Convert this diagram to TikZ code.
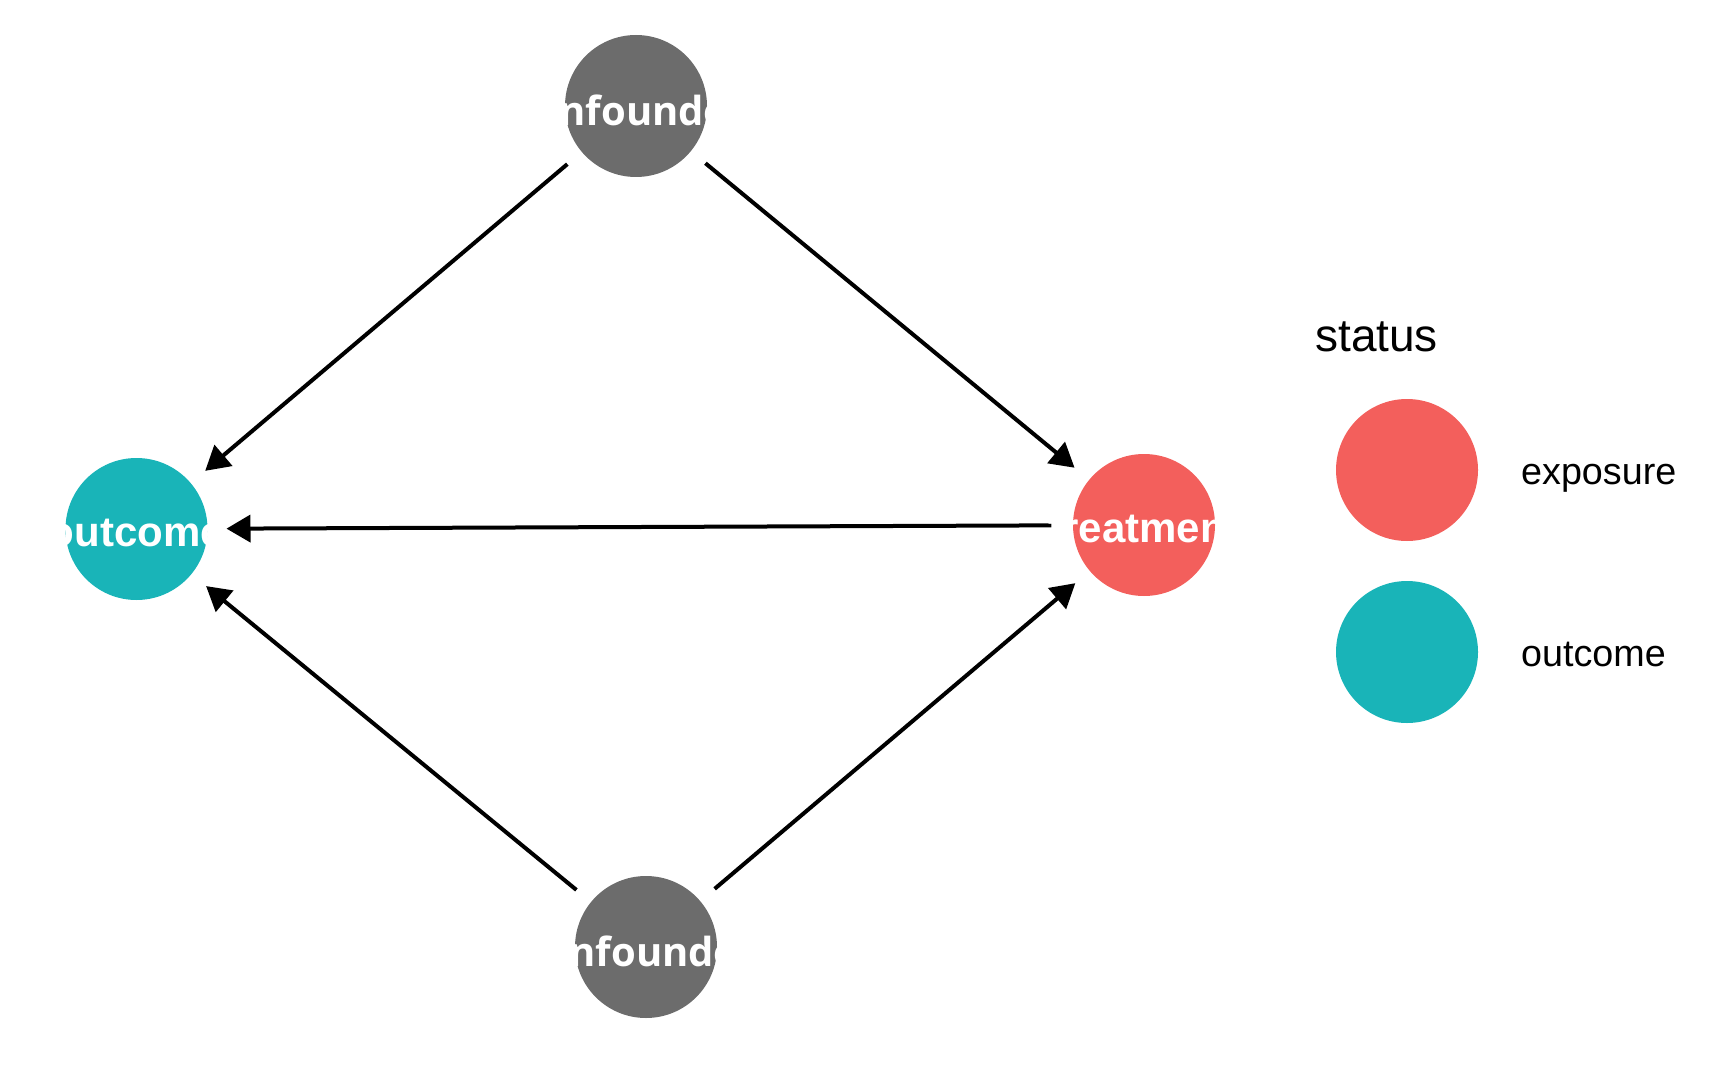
\documentclass[tikz,border=0pt]{standalone}
\usepackage{fontspec}
\setmainfont{Liberation Sans}
\newfontfamily\confont{Open Sans}
\usetikzlibrary{arrows.meta}
\definecolor{dagred}{RGB}{243,95,92}
\definecolor{dagteal}{RGB}{25,180,184}
\definecolor{daggray}{RGB}{108,108,108}
\tikzstyle{dagnode} = [circle, minimum size=142pt, inner sep=0pt, outer sep=19pt]
\tikzstyle{daglabel} = [text=white, inner sep=0pt, yshift=-4pt, font=\fontsize{42}{50}\selectfont\bfseries]
\tikzstyle{conflabel} = [daglabel, xshift=-6pt, font=\fontsize{40}{48}\selectfont\confont\bfseries]
\tikzstyle{arrow} = [line width=4pt, -{Triangle[length=24pt,width=27pt]}]

\begin{document}
\begin{tikzpicture}[x=1pt,y=-1pt]
\useasboundingbox (0,0) rectangle (1728,1067);

% DAG nodes
\node[dagnode, fill=daggray] (conftop) at (636,106) {};
\node[dagnode, fill=dagteal] (outcome) at (136.5,529) {};
\node[dagnode, fill=dagred] (treatment) at (1144,525) {};
\node[dagnode, fill=daggray] (confbot) at (646,947) {};

% Edges
\draw[arrow] (conftop) -- (outcome);
\draw[arrow] (conftop) -- (treatment);
\draw[arrow] (treatment) -- (outcome);
\draw[arrow] (confbot) -- (outcome);
\draw[arrow] (confbot) -- (treatment);

% Labels (white, drawn over the edges)
\node[conflabel] at (conftop) {confounder};
\node[daglabel] at (outcome) {outcome};
\node[daglabel] at (treatment) {treatment};
\node[conflabel] at (confbot) {confounder};

% Legend
\node[anchor=base west, inner sep=0pt, font=\fontsize{46}{55}\selectfont] (legtitle) at (1315,351) {status};
\node[dagnode, fill=dagred] (legexpo) at (1407,470) {};
\node[dagnode, fill=dagteal] (legout) at (1407,652) {};
\node[anchor=base west, inner sep=0pt, font=\fontsize{37.7}{45}\selectfont] (legexpotext) at (1521,484) {exposure};
\node[anchor=base west, inner sep=0pt, font=\fontsize{37.7}{45}\selectfont] (legouttext) at (1521,666) {outcome};
\end{tikzpicture}
\end{document}
